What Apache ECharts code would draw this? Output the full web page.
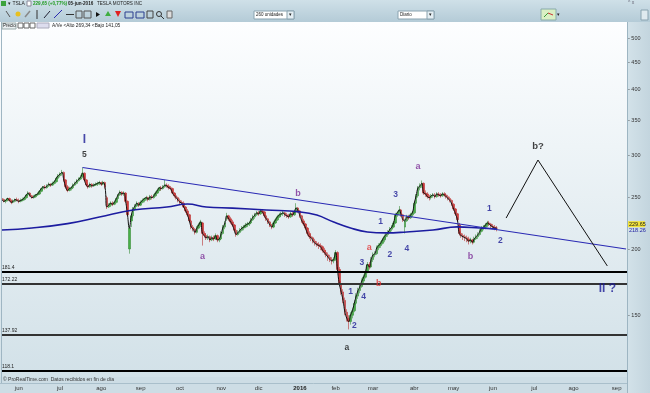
<!DOCTYPE html>
<html><head><meta charset="utf-8">
<script src="https://cdn.jsdelivr.net/npm/echarts@6/dist/echarts.min.js"></script>
<style>html,body{margin:0;padding:0;background:#c5d7e0;}#c{width:650px;height:393px;}</style>
</head><body><div id="c"></div>
<script>
// ---------------- data ----------------
const holidays = ['2015-05-25','2015-07-03','2015-09-07','2015-11-26','2015-12-25','2016-01-01','2016-01-18','2016-02-15','2016-03-25','2016-05-30'];
const monthAbbr = ['ene','feb','mar','abr','may','jun','jul','ago','sep','oct','nov','dic'];
// daily TSLA candles [open, close, low, high], from 2015-05-18 to 2016-06-03
const ohlc = [
[249,248,246,251],[248,246,245,249],[246,247,244,248],[247,249,246,250],[249,247,246,250],[247,245,243,248],[245,246,244,248],[246,248,245,249],[248,247,246,250],[247,246,244,249],
[246,247,245,249],[247,248,246,250],[248,250,247,251],[250,253,249,254],[253,255,252,257],[255,252,251,256],[252,250,249,253],[250,251,249,253],[251,253,250,254],[253,254,252,256],
[254,257,253,258],[257,260,256,261],[260,262,258,263],[262,261,259,264],[261,263,260,265],[263,265,262,267],[265,264,262,266],[264,266,263,268],[266,268,265,270],[268,272,267,274],
[272,275,271,277],[275,277,273,279],[277,279,275,282],[279,270,268,280],[270,262,260,271],[262,258,256,264],[258,260,257,262],[260,261,258,263],[261,264,260,266],[264,266,263,268],
[266,269,265,271],[269,271,268,273],[271,273,270,276],[274,278,272,285],[278,270,268,279],[270,264,262,271],[264,262,260,266],[262,265,261,267],[265,263,261,266],[263,264,262,266],
[264,265,263,267],[265,266,263,268],[266,267,264,269],[267,265,263,268],[265,267,264,269],[267,262,260,268],[250,240,238,252],[240,242,239,244],[242,244,240,246],[244,243,241,246],
[243,245,242,247],[245,249,244,250],[249,253,248,254],[253,256,252,258],[256,254,252,257],[254,255,252,257],[255,246,245,256],[246,232,231,247],[200,219,196,222],[226,231,220,234],
[231,238,229,240],[238,241,236,243],[241,244,240,246],[244,242,240,245],[242,245,241,247],[245,247,244,249],[247,249,245,250],[249,250,247,252],[250,248,246,251],[248,251,247,253],
[251,250,248,253],[250,252,249,254],[252,255,251,257],[255,258,254,260],[258,261,257,262],[261,260,258,263],[260,262,259,264],[262,264,261,270],[264,263,261,266],[263,261,259,265],
[261,260,258,263],[260,255,254,261],[255,252,250,256],[252,250,248,254],[250,247,245,251],[247,245,243,249],[245,244,242,247],[244,240,239,246],[240,236,234,241],[236,232,230,238],
[232,226,224,233],[226,220,218,227],[220,218,216,222],[218,215,213,219],[215,219,214,221],[219,222,218,224],[222,225,220,227],[224,214,203,225],[214,212,210,216],[212,210,208,214],
[210,211,208,213],[211,208,206,212],[208,210,207,212],[210,209,207,212],[209,212,208,214],[212,208,206,213],[208,209,206,211],[209,214,208,216],[214,220,213,222],[220,224,218,226],
[228,231,226,234],[231,228,226,232],[228,225,223,230],[225,222,220,227],[222,217,215,223],[217,213,211,218],[213,215,212,217],[215,217,214,219],[217,219,216,221],[219,220,217,222],
[220,222,219,224],[222,223,220,225],[223,224,221,226],[224,227,223,229],[227,230,226,232],[230,232,228,234],[232,234,231,236],[234,233,231,236],[233,236,232,238],[236,235,233,238],
[235,231,229,236],[231,228,226,232],[228,225,223,229],[225,222,220,226],[222,220,218,223],[220,224,219,226],[224,227,223,229],[227,230,226,232],[230,232,229,234],[232,233,230,235],
[233,234,231,236],[234,232,230,235],[232,231,229,234],[231,230,228,233],[230,233,229,235],[233,232,230,235],[232,235,231,237],[235,239,234,244],[239,236,234,240],[236,231,229,237],
[231,226,224,232],[226,223,221,228],[223,219,217,224],[219,214,212,220],[214,211,209,216],[211,210,207,213],[210,207,205,211],[207,205,203,209],[205,204,202,207],[204,203,200,206],
[203,202,199,205],[202,199,197,203],[199,197,195,201],[197,195,193,199],[195,193,190,197],[193,191,189,195],[191,190,187,193],[190,191,188,193],[191,197,190,199],[197,183,181,198],
[183,172,170,185],[172,166,164,174],[166,160,158,168],[160,152,150,162],[152,148,146,154],[148,146,141.05,150],[146,150,144,152],[150,153,148,155],[153,158,152,160],[158,163,157,165],
[163,167,161,169],[167,170,165,172],[170,174,169,176],[174,177,172,179],[177,181,176,183],[181,187,180,189],[187,185,183,189],[185,191,184,193],[191,195,189,197],[195,196,193,198],
[196,201,195,203],[201,203,199,205],[203,205,201,207],[205,208,204,210],[208,211,206,213],[211,213,209,215],[213,215,211,217],[215,218,214,220],[218,220,216,222],[220,224,219,226],
[224,232,223,234],[232,234,230,236],[234,237,232,241],[237,232,230,238],[232,227,225,233],[220,226,214,228],[226,230,225,232],[230,229,227,232],[229,232,228,234],[232,234,230,236],
[234,244,233,246],[244,252,243,254],[252,261,250,263],[261,263,258,266],[263,266,261,269.34],[266,255,253,267],[255,254,251,258],[254,251,249,256],[251,250,247,253],[250,252,248,254],
[252,253,250,255],[253,251,249,255],[251,254,250,256],[254,253,251,256],[253,252,250,255],[252,254,251,256],[254,253,251,256],[253,251,249,255],[251,249,247,253],[249,247,245,251],
[247,243,241,248],[243,238,236,244],[238,233,231,239],[233,227,225,234],[222,214,212,224],[214,212,210,216],[212,211,208,214],[211,210,207,213],[210,209,206,212],[209,207,204,211],
[207,208,205,210],[208,206,204,209],[206,209,205,211],[209,211,208,213],[211,213,209,215],[213,216,212,218],[216,219,215,221],[219,220,217,222],[220,222,218,224],[222,224,220,226],
[224,223,221,226],[223,221,219,224],[221,220,218,223],[220,219,217,222],[219,218.99,216,221]
];
// slow moving average (blue), read at points [dayIndex, value]
const blueMA = [[0,217.2],[16,219.1],[35,223.3],[52,229.8],[70,237],[88,240],[99,243.2],[109,240],[123,238.9],[141,237],[159,235],[168,231.8],[177,224.8],[186,219.1],[195,215.4],[205,214.5],[216,215.4],[230,217.2],[243,220.2],[255,219.1],[264,218.2]];
const trendLine = [[43,285],[333,200]];
const projection = [[269,228.8],[285.5,294.4],[323,185.8]];
const levels = [181.4,172.22,137.92,118.1];
const priceTicks = [150,200,250,300,350,400,450,500];
const waveNavy = [[202,224.8,'1'],[206.5,194.8,'2'],[209.5,252.8,'3'],[215.5,200,'4'],[185.5,165.9,'1'],[187.5,143.1,'2'],[192,188.1,'3'],[193,162.3,'4'],[260,238,'1'],[265.5,207.1,'2']];
const wavePurple = [[107,193.2,'a'],[158,255,'b'],[221.5,285.6,'a'],[249.5,193.2,'b']];
const waveRed = [[196,201.7,'a'],[201,171.8,'b']];
const waveBlack = [[44,300.8,'5'],[183.5,130.1,'a']];
const waveBlackBig = [[285.5,312.9,'b?']];
const waveBig = [[44,321,'I'],[322.5,168.1,'II ?']];
const headerPrice = '229,65 (+0,77%)';
const lastCloseLabel = '229.65';
const lastMALabel = '218.26';

// ---------------- categories (trading days) ----------------
function ymd(d){return d.toISOString().slice(0,10);}
const cats=[]; const monthStart=new Set();
(function(){
  let t=Date.UTC(2015,4,18); const end=Date.UTC(2016,8,8); let pm=-1;
  while(t<=end){const d=new Date(t);const wd=d.getUTCDay();const s=ymd(d);
    if(wd!==0&&wd!==6&&holidays.indexOf(s)<0){ if(cats.length>0&&d.getUTCMonth()!==pm) monthStart.add(cats.length); pm=d.getUTCMonth(); cats.push(s);} t+=86400000;}
})();
const lastIdx = ohlc.length-1;
const closes = ohlc.map(r=>r[1]);

const FONT='Liberation Sans, Arial, sans-serif';
const chart = echarts.init(document.getElementById('c'), null, {renderer:'canvas',width:650,height:393});
const G = echarts.graphic;
function txt(x,y,t,o){return Object.assign({type:'text',x:x,y:y,z:100,style:Object.assign({text:t,fontSize:5,fontFamily:FONT,fill:'#222',verticalAlign:'middle'},o||{})});}
function rect(x,y,w,h,fill,stroke,z){return {type:'rect',z:z===undefined?-10:z,shape:{x:x,y:y,width:w,height:h},style:{fill:fill,stroke:stroke||null,lineWidth:stroke?1:0}};}
function ln(x1,y1,x2,y2,c,w){return {type:'line',z:100,shape:{x1:x1,y1:y1,x2:x2,y2:y2},style:{stroke:c,lineWidth:w||1}};}

const chrome = [
  rect(0,0,650,22,new G.LinearGradient(0,0,0,1,[{offset:0,color:'#cfe0e8'},{offset:1,color:'#b4cbd7'}])),
  rect(0,22,627,355,new G.LinearGradient(0,0,0,1,[{offset:0,color:'#fdfeff'},{offset:0.35,color:'#eef4f7'},{offset:1,color:'#d2e1e8'}])),
  rect(627,22,23,371,new G.LinearGradient(1,0,0,0,[{offset:0,color:'#c3d5de'},{offset:1,color:'#d3e2e9'}])),
  rect(0,377,627,16,'#cddde5'),
  ln(627.5,22,627.5,393,'#9db5c2',1), ln(0,383.5,627,383.5,'#a9bfcb',1), ln(1.5,22,1.5,383,'#9fb6c3',1),
  // header row
  rect(1,1,5,5,'#3da33d',null,100), txt(8,3.5,'▾ TSLA'), rect(27,1,4,5,'#fff','#889',100),
  txt(33,3.5,headerPrice,{fill:'#1f9a1f',fontWeight:'bold',fontSize:4.6}), txt(68,3.5,'05-jun-2016',{fontWeight:'bold',fontSize:4.6}), txt(97,3.5,'TESLA MOTORS INC',{fontSize:4.6}),
  txt(628,2.5,'^ x',{fill:'#667'}),
  // toolbar icons
  ln(6,11,10,17,'#555',1), {type:'circle',z:100,shape:{cx:18,cy:14,r:2.5},style:{fill:'#e8c020'}},
  ln(25,17,30,11,'#888',1.5), ln(37,10,37,19,'#333',1), ln(44,18,50,11,'#223',1), ln(54,18,62,10,'#2b2bb0',1),
  ln(66,14.5,74,14.5,'#333',1), rect(76,11,6,7,null,'#555',100), rect(84,11,7,7,null,'#555',100),
  {type:'polygon',z:100,shape:{points:[[96,12],[100,14.5],[96,17]]},style:{fill:'#111'}},
  {type:'polygon',z:100,shape:{points:[[105,16],[108,11],[111,16]]},style:{fill:'#3fae3f'}},
  {type:'polygon',z:100,shape:{points:[[115,11],[118,17],[121,11]]},style:{fill:'#e02020'}},
  rect(125,12,8,6,null,'#2b3f8f',100), rect(136,12,8,6,null,'#2b3f8f',100), rect(147,11,6,7,null,'#444',100),
  {type:'circle',z:100,shape:{cx:159,cy:14,r:2.5},style:{fill:null,stroke:'#333',lineWidth:1}}, ln(161,16,164,19,'#333',1),
  rect(167,11,5,7,'#ddd','#666',100),
  // dropdowns
  rect(254,11,40,8,'#fff','#8aa3b0',100), txt(256,15,'260 unidades',{fontSize:4.5}), rect(287,11,7,8,'#e4eef3','#8aa3b0',100), txt(288.5,15,'▾',{fontSize:5}),
  rect(398,11,36,8,'#fff','#8aa3b0',100), txt(400,15,'Diario',{fontSize:4.5}), rect(427,11,7,8,'#e4eef3','#8aa3b0',100), txt(428.5,15,'▾',{fontSize:5}),
  rect(541,9,15,11,'#d9efc4','#8aa',100), ln(544,17,548,13,'#3a9a3a',1), ln(548,13,553,15,'#c33',1), txt(557,14.5,'▾',{fontSize:5}),
  rect(641,10,7,10,'#e0eaef','#8aa3b0',100),
  // price tab row
  rect(2,23,14,6,'#e9eef0','#9aa',100), txt(3,26,'Precio',{fontSize:4.5}),
  rect(18,23,5,5,null,'#666',100), rect(24,23,5,5,null,'#666',100), rect(30,23,5,5,null,'#666',100), rect(37,23,12,5,'#dde','#aab',100),
  txt(52,26,'A/Ve <Alto 269,34 <Bajo 141,05',{fontSize:4.8}),
  // footer
  txt(3,380,'© ProRealTime.com  Datos recibidos en fin de día',{fontSize:5,fill:'#333'})
];

const waveLabel = (color,size,weight)=>({show:true,position:'inside',formatter:p=>p.data[2],color:color,fontSize:size,fontWeight:weight,fontFamily:FONT});
const waveSeries = (data,color,size,weight)=>({type:'scatter',data:data,symbol:'circle',symbolSize:0.1,itemStyle:{color:'rgba(0,0,0,0)'},label:waveLabel(color,size,weight),silent:true,z:20,clip:false});

const option = {
  backgroundColor:'#c5d7e0',
  animation:false,
  graphic: chrome,
  grid:{left:1,right:23,top:22,bottom:16,containLabel:false,outerBoundsMode:'none'},
  xAxis:{type:'category',data:cats,boundaryGap:true,axisLine:{show:false},axisTick:{show:false},splitLine:{show:false},
    axisLabel:{interval:(i)=>monthStart.has(i),margin:8,fontSize:6,color:'#333',fontFamily:FONT,
      formatter:(v)=>{const m=+v.slice(5,7);return m===1?'{y|'+v.slice(0,4)+'}':monthAbbr[m-1];},
      rich:{y:{fontWeight:'bold',fontSize:6,color:'#222',fontFamily:FONT}}}},
  yAxis:{type:'log',logBase:10,min:114.7,max:536.2,position:'right',axisLine:{show:false},axisTick:{show:false},axisLabel:{show:false},splitLine:{show:false}},
  series:[
    {type:'candlestick',data:ohlc,barWidth:2,z:3,
      itemStyle:{color:'#47b047',color0:'#d83c3c',borderColor:'#3a8f3a',borderColor0:'#b83232',borderWidth:0.6}},
    {type:'line',data:closes,symbol:'none',smooth:0.5,lineStyle:{color:'#111',width:1},z:4,silent:true},
    {type:'line',data:blueMA,symbol:'none',smooth:0.45,lineStyle:{color:'#1c1ca0',width:1.6},z:5,silent:true},
    {type:'line',data:trendLine,symbol:'none',lineStyle:{color:'#2a2ab4',width:1.1},z:5,silent:true},
    {type:'line',data:projection,symbol:'none',lineStyle:{color:'#111',width:1},z:5,silent:true},
    {type:'line',data:[],silent:true,markLine:{silent:true,symbol:'none',animation:false,
      data:levels.map((v,k)=>({yAxis:v,lineStyle:{color:(k===0||k===3)?'#000':'#333',width:2,type:'solid'}})),
      label:{position:'insideStartTop',distance:[1,1],formatter:'{c}',fontSize:5,color:'#222',fontFamily:FONT}}},
    {type:'line',data:[],silent:true,markLine:{silent:true,symbol:'none',animation:false,
      data:priceTicks.map(v=>({yAxis:v})),lineStyle:{color:'rgba(0,0,0,0)',width:0.1,opacity:1},
      label:{show:true,position:'end',distance:1,formatter:p=>'- '+p.value,fontSize:5.5,color:'#333',fontFamily:FONT,opacity:1}}},
    waveSeries(waveNavy,'#1b1b95',8.5,'bold'),
    waveSeries(wavePurple,'#7a2a95',9,'bold'),
    waveSeries(waveRed,'#e23030',9,'bold'),
    waveSeries(waveBlack,'#111',8.5,'bold'),
    waveSeries(waveBlackBig,'#111',9.5,'bold'),
    waveSeries(waveBig,'#1b1b95',12,'bold')
  ]
};
chart.setOption(option);
const pc = chart.convertToPixel({xAxisIndex:0,yAxisIndex:0},[lastIdx, closes[lastIdx]]);
const pm = chart.convertToPixel({xAxisIndex:0,yAxisIndex:0},[lastIdx, blueMA[blueMA.length-1][1]]);
chart.setOption({graphic: chrome.concat([
  rect(628,pc[1]-7,17,6,'#f2e23a',null,100), txt(629,pc[1]-4,lastCloseLabel,{fontSize:5.5,fill:'#222'}),
  txt(629,pm[1]+2,lastMALabel,{fontSize:5.5,fill:'#1c1ca0'})
])});
</script></body></html>
